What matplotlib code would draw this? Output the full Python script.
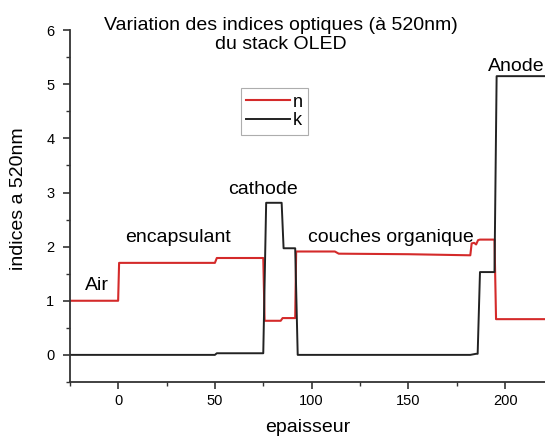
import numpy as np
import matplotlib.pyplot as plt
from matplotlib.ticker import MultipleLocator

plt.rcParams['font.family'] = ['Liberation Sans', 'DejaVu Sans']

# indice de refraction n (rouge)
n_x = [-25, 0, 0.5, 50, 51, 75, 75.7, 84, 85, 91.5, 92, 112, 114, 150, 182,
       182.7, 184, 185, 186, 187, 194.5, 195.3, 225]
n_y = [1.0, 1.0, 1.70, 1.70, 1.79, 1.79, 0.63, 0.63, 0.68, 0.68, 1.91, 1.91,
       1.87, 1.86, 1.84, 2.06, 2.07, 2.04, 2.12, 2.13, 2.13, 0.66, 0.66]

# coefficient d'extinction k (noir)
k_x = [-25, 50, 51, 75, 76.5, 84.5, 85.5, 91.5, 92.8, 182, 185, 185.8, 187,
       194.5, 195.6, 225]
k_y = [0.0, 0.0, 0.03, 0.03, 2.81, 2.81, 1.97, 1.97, 0.0, 0.0, 0.02, 0.02,
       1.53, 1.53, 5.15, 5.15]

labels = ["Air", "encapsulant", "cathode", "couches organique", "Anode"]
label_x = [-11, 31, 75, 140.7, 191.3]
label_y = [1.28, 2.17, 3.06, 2.17, 5.33]

fig = plt.figure(figsize=(5.45, 4.37), dpi=100)
ax = fig.add_axes([0.128, 0.126, 0.872, 0.805])

ax.plot(n_x, n_y, color="#d42a2a", lw=1.5, label="n")
ax.plot(k_x, k_y, color="#222222", lw=1.4, label="k")

ax.set_xlim(-25, 220.6)
ax.set_ylim(-0.5, 6)
ax.xaxis.set_major_locator(MultipleLocator(50))
ax.xaxis.set_minor_locator(MultipleLocator(25))
ax.yaxis.set_major_locator(MultipleLocator(1))
ax.yaxis.set_minor_locator(MultipleLocator(0.5))
ax.tick_params(which="major", length=5, width=1.2, labelsize=10.5, color="#333333")
ax.tick_params(which="minor", length=3, width=1.0, color="#333333")
ax.tick_params(axis="y", which="major", pad=6)
for s in ["top", "right"]:
    ax.spines[s].set_visible(False)
for s in ["left", "bottom"]:
    ax.spines[s].set_linewidth(1.3)
    ax.spines[s].set_color("#333333")

ax.set_xlabel("epaisseur", fontsize=14)
ax.xaxis.set_label_coords(0.5, -0.105)
ax.set_ylabel("indices a 520nm", fontsize=14)
ax.yaxis.set_label_coords(-0.09, 0.52)

for t, x, y in zip(labels, label_x, label_y):
    ha = "left" if t == "Anode" else "center"
    ax.text(x, y, t, fontsize=14, ha=ha, va="center", clip_on=False)

fig.text(0.516, 0.92, "Variation des indices optiques (à 520nm)\ndu stack OLED",
         ha="center", va="center", fontsize=14, linespacing=1.15)

leg = ax.legend(loc="upper left", bbox_to_anchor=(0.36, 0.835), fontsize=13,
                frameon=True, fancybox=False, edgecolor="#999999",
                handlelength=2.4, handletextpad=0.15, borderpad=0.3,
                labelspacing=0.1, borderaxespad=0)
leg.get_frame().set_linewidth(0.8)

fig.savefig("out.png", dpi=100)
